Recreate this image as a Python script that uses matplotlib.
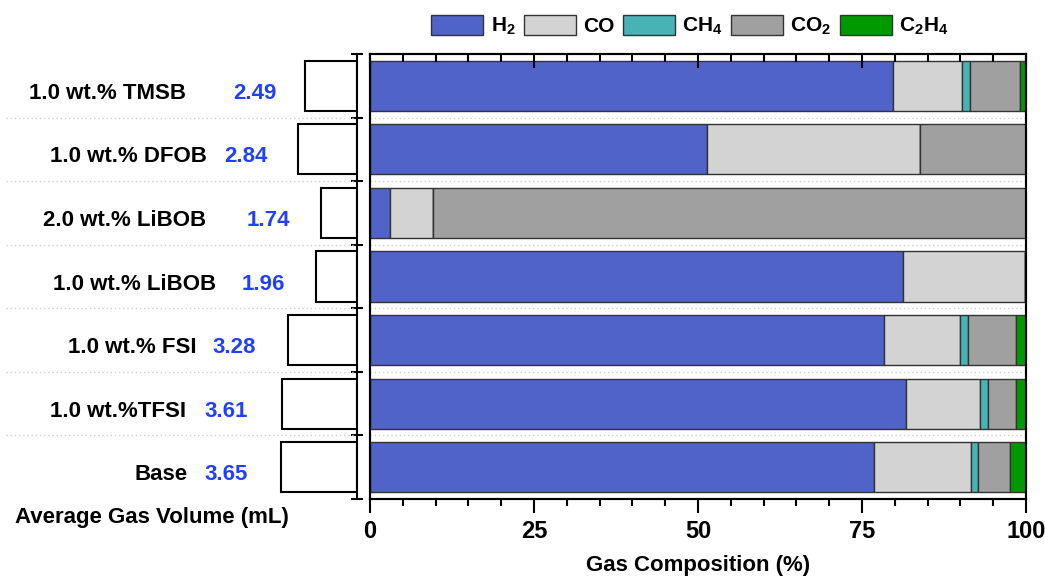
import matplotlib as mpl
import matplotlib.pyplot as plt
import numpy as np
from matplotlib.patches import Patch
from matplotlib.ticker import MultipleLocator

# rows, top to bottom
samples = ['1.0 wt.% TMSB', '1.0 wt.% DFOB', '2.0 wt.% LiBOB', '1.0 wt.% LiBOB',
           '1.0 wt.% FSI', '1.0 wt.%TFSI', 'Base']
gas_volume = [2.49, 2.84, 1.74, 1.96, 3.28, 3.61, 3.65]

gases = ['H$_\\mathrm{2}$', 'CO', 'CH$_\\mathrm{4}$', 'CO$_\\mathrm{2}$',
         'C$_\\mathrm{2}$H$_\\mathrm{4}$']
h2 = [79.7, 51.4, 3.1, 81.3, 78.3, 81.7, 76.8]
co = [10.5, 32.4, 6.5, 18.5, 11.6, 11.3, 14.8]
ch4 = [1.2, 0.0, 0.0, 0.0, 1.2, 1.2, 1.1]
co2 = [7.7, 16.2, 90.4, 0.2, 7.4, 4.3, 4.9]
c2h4 = [0.9, 0.0, 0.0, 0.0, 1.5, 1.5, 2.4]

# hand placed label anchors (mL units of the left panel)
label_x = [8.2, 7.2, 7.2, 6.75, 7.7, 8.2, 8.1]
value_x = [5.9, 6.35, 5.3, 5.5, 6.9, 7.3, 7.3]

colors = ['#5063c9', '#d3d3d3', '#48b3b5', '#a0a0a0', '#009900']

W, H = 1045, 578
plt.rcParams['font.family'] = ['Liberation Sans', 'DejaVu Sans']
plt.rcParams['font.weight'] = 'bold'
plt.rcParams['mathtext.fontset'] = 'custom'
plt.rcParams['mathtext.rm'] = 'Liberation Sans:bold'

fig = plt.figure(figsize=(W / 100, H / 100), dpi=100)
bot = (H - 499) / H
hgt = (499 - 54) / H
ax_l = fig.add_axes([0, bot, 357 / W, hgt])
ax_r = fig.add_axes([370 / W, bot, (1026 - 370) / W, hgt])

y = np.arange(len(samples))
bar_h = 0.79

# left panel: average gas volume, bars growing to the left
ax_l.barh(y, gas_volume, height=bar_h, color='white', edgecolor='black', linewidth=1.5)
ax_l.set_xlim(357 / 20.9, 0)
ax_l.set_ylim(len(samples) - 0.5, -0.5)
for s in ['left', 'top', 'bottom']:
    ax_l.spines[s].set_visible(False)
ax_l.spines['right'].set_linewidth(1.5)
ax_l.yaxis.tick_right()
ax_l.set_yticks(np.arange(-0.5, len(samples), 1.0))
ax_l.tick_params(axis='y', direction='inout', length=9, width=1.5, labelright=False)
ax_l.set_xticks([])
for b in np.arange(0.5, len(samples) - 1, 1.0):
    ax_l.plot([16.8, 0], [b, b], ls=(0, (1, 2)), color='#d0d0d0', lw=1)
for i in range(len(samples)):
    ax_l.text(label_x[i], y[i] + 0.12, samples[i], ha='right', va='center',
              fontsize=16, fontweight='bold')
    ax_l.text(value_x[i], y[i] + 0.12, f'{gas_volume[i]:.2f}', ha='left', va='center',
              fontsize=16, fontweight='bold', color='#2040ff')
fig.text(15 / W, 1 - 517 / H, 'Average Gas Volume (mL)', ha='left', va='center',
         fontsize=16, fontweight='bold')

# right panel: stacked gas composition
left = np.zeros(len(samples))
for vals, c in zip([h2, co, ch4, co2, c2h4], colors):
    ax_r.barh(y, vals, left=left, height=bar_h, color=c, edgecolor='#333333', linewidth=1)
    left += np.array(vals)
for b in np.arange(0.5, len(samples) - 1, 1.0):
    ax_r.axhline(b, ls=(0, (1, 2)), color='#d0d0d0', lw=1, zorder=0)
ax_r.set_xlim(0, 100)
ax_r.set_ylim(len(samples) - 0.5, -0.5)
ax_r.set_yticks([])
ax_r.xaxis.set_major_locator(MultipleLocator(25))
ax_r.xaxis.set_minor_locator(MultipleLocator(5))
ax_r.tick_params(axis='x', which='major', length=10, width=1.5, direction='out',
                 pad=5, labelsize=17)
ax_r.tick_params(axis='x', which='minor', length=5, width=1.5, direction='out')
for s in ax_r.spines.values():
    s.set_linewidth(1.5)
ax_r.set_xlabel('Gas Composition (%)', fontsize=16, fontweight='bold', labelpad=9)

# inward ticks along the top edge
ax_t = ax_r.twiny()
ax_t.set_xlim(ax_r.get_xlim())
ax_t.xaxis.set_major_locator(MultipleLocator(25))
ax_t.xaxis.set_minor_locator(MultipleLocator(5))
ax_t.tick_params(axis='x', which='major', length=10, width=1.5, direction='in', labeltop=False)
ax_t.tick_params(axis='x', which='minor', length=6, width=1.5, direction='in')
for s in ax_t.spines.values():
    s.set_linewidth(1.5)

handles = [Patch(facecolor=c, edgecolor='#333333', linewidth=1) for c in colors]
fig.legend(handles, gases, loc='center', bbox_to_anchor=(690 / W, 1 - 26 / H), ncol=5,
           frameon=False, prop={'weight': 'bold', 'size': 15},
           handlelength=2.5, handleheight=1.15, handletextpad=0.35, columnspacing=0.4)

fig.savefig('out.png', dpi=100)
